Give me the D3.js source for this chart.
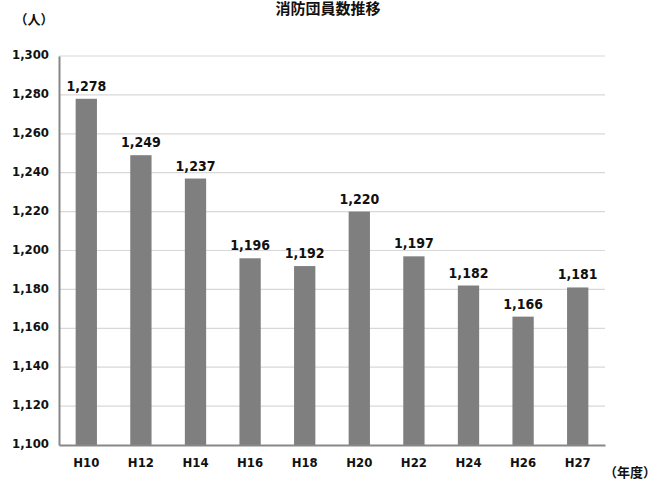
<!DOCTYPE html>
<html>
<head>
<meta charset="utf-8">
<script src="https://cdn.jsdelivr.net/npm/d3@7"></script>
<style>
  body { margin: 0; background: #fff; overflow: hidden; }
  svg { display: block; }
  text { font-family: "DejaVu Sans Condensed", "Liberation Sans Narrow", "Noto Sans CJK JP", sans-serif; font-weight: bold; }
  .jp { font-family: "Noto Sans CJK JP", sans-serif; }
</style>
</head>
<body>
<script>
//data
let years = ["H10", "H12", "H14", "H16", "H18", "H20", "H22", "H24", "H26", "H27"];
let members = [1278, 1249, 1237, 1196, 1192, 1220, 1197, 1182, 1166, 1181];
let yTicks = [1100, 1120, 1140, 1160, 1180, 1200, 1220, 1240, 1260, 1280, 1300];

let svg = d3.select("body").append("svg")
	.attr("width", 669)
	.attr("height", 481);

let margin = {top: 56, right: 64, bottom: 36, left: 59};
let innerWidth = 669 - margin.left - margin.right;
let innerHeight = 481 - margin.top - margin.bottom;

let g = svg.append("g")
	.attr("transform", `translate(${margin.left}, ${margin.top})`);

let scaleX = d3.scaleBand()
	.domain(years)
	.range([0, innerWidth])
	.paddingInner(0.61)
	.paddingOuter(0.305);

let scaleY = d3.scaleLinear()
	.domain([1100, 1300])
	.range([innerHeight, 0]);

let fmt = d3.format(",");

//gridlines
g.selectAll(".grid")
	.data(yTicks.slice(1))
	.enter().append("line")
	.attr("x1", 0)
	.attr("x2", innerWidth)
	.attr("y1", d => scaleY(d))
	.attr("y2", d => scaleY(d))
	.attr("stroke", "#d8d8d8")
	.attr("stroke-width", 1.2);

//y axis
let yAxis = d3.axisLeft(scaleY)
	.tickValues(yTicks)
	.tickSize(0)
	.tickPadding(10)
	.tickFormat(fmt);

let yG = g.append("g").call(yAxis);
yG.select(".domain").attr("stroke", "#888").attr("stroke-width", 2);
yG.selectAll("text").attr("font-size", 13).attr("fill", "#111").attr("dy", "0.2em");

//bars
g.selectAll(".bar")
	.data(members)
	.enter().append("rect")
	.attr("x", (d, i) => scaleX(years[i]))
	.attr("y", d => scaleY(d))
	.attr("width", scaleX.bandwidth())
	.attr("height", d => innerHeight - scaleY(d))
	.attr("fill", "#7f7f7f");

//value labels
g.selectAll(".val")
	.data(members)
	.enter().append("text")
	.attr("x", (d, i) => scaleX(years[i]) + scaleX.bandwidth() / 2)
	.attr("y", d => scaleY(d) - 8)
	.attr("text-anchor", "middle")
	.attr("font-size", 14)
	.attr("fill", "#111")
	.text(d => fmt(d));

//x axis
let xAxis = d3.axisBottom(scaleX)
	.tickSize(0)
	.tickPadding(13);

let xG = g.append("g")
	.attr("transform", `translate(0, ${innerHeight})`)
	.call(xAxis);
xG.select(".domain").attr("stroke", "#888").attr("stroke-width", 2);
xG.selectAll("text").attr("font-size", 13).attr("fill", "#111");

//titles
svg.append("text")
	.attr("class", "jp")
	.attr("x", 328)
	.attr("y", 14)
	.attr("text-anchor", "middle")
	.attr("font-size", 15)
	.attr("font-weight", 900)
	.attr("fill", "#111")
	.text("消防団員数推移");

svg.append("text")
	.attr("class", "jp")
	.attr("x", 34)
	.attr("y", 24)
	.attr("text-anchor", "middle")
	.attr("font-size", 13)
	.attr("fill", "#111")
	.text("（人）");

svg.append("text")
	.attr("class", "jp")
	.attr("x", 630)
	.attr("y", 477)
	.attr("text-anchor", "middle")
	.attr("font-size", 13)
	.attr("fill", "#111")
	.text("（年度）");
</script>
</body>
</html>
